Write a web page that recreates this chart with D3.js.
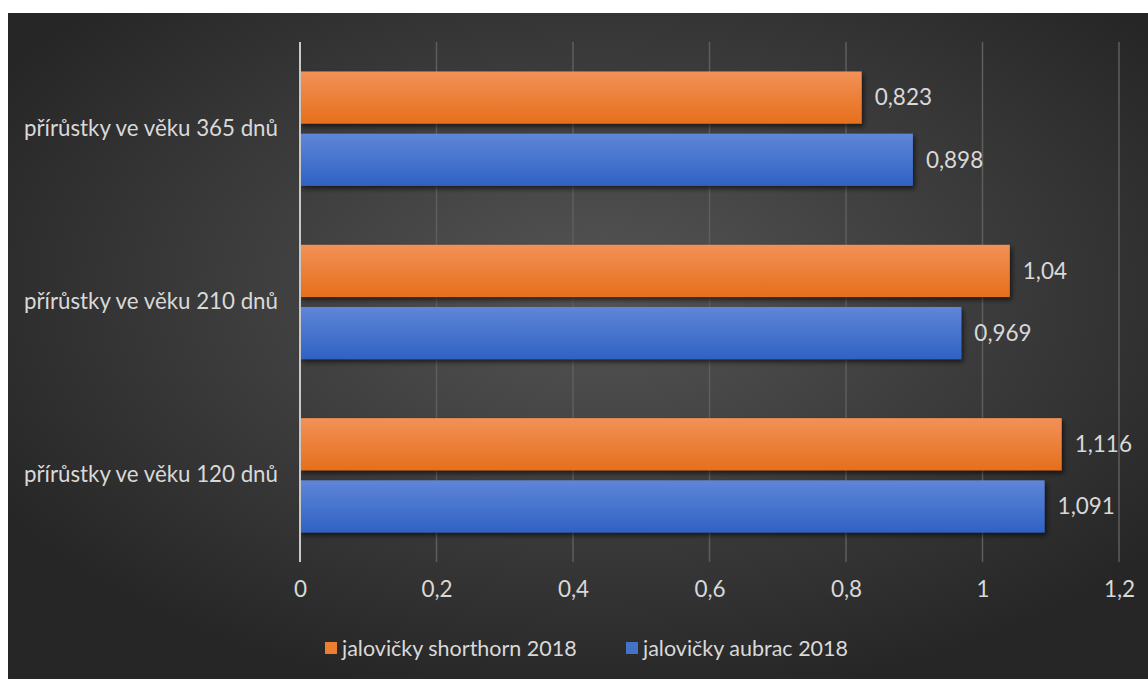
<!DOCTYPE html>
<html>
<head>
<meta charset="utf-8">
<script src="https://cdn.jsdelivr.net/npm/d3@7"></script>
<style>
  html, body { margin: 0; padding: 0; background: #fff; }
  svg { display: block; }
</style>
</head>
<body>
<svg id="chart" width="1148" height="679"></svg>
<script>
// categories from top to bottom, as in the picture
const categories = ["přírůstky ve věku 365 dnů", "přírůstky ve věku 210 dnů", "přírůstky ve věku 120 dnů"];
const seriesNames = ["jalovičky shorthorn 2018", "jalovičky aubrac 2018"];
const shorthorn = [0.823, 1.04, 1.116];
const aubrac = [0.898, 0.969, 1.091];
const xTicks = [0, 0.2, 0.4, 0.6, 0.8, 1, 1.2];

const fmt = v => String(v).replace(".", ",");

const svg = d3.select("#chart");
const defs = svg.append("defs");

// background gradient (dark, lighter in the middle)
const bg = defs.append("radialGradient").attr("id", "bg")
  .attr("cx", "52%").attr("cy", "42%").attr("r", "62%");
bg.append("stop").attr("offset", "0%").attr("stop-color", "#555555");
bg.append("stop").attr("offset", "100%").attr("stop-color", "#262626");

function barGrad(id, top, bottom) {
  const g = defs.append("linearGradient").attr("id", id)
    .attr("x1", 0).attr("y1", 0).attr("x2", 0).attr("y2", 1);
  g.append("stop").attr("offset", "0%").attr("stop-color", top);
  g.append("stop").attr("offset", "100%").attr("stop-color", bottom);
}
barGrad("gOrange", "#f29157", "#e66f1c");
barGrad("gBlue", "#5f86d8", "#2f62c3");

const shadow = defs.append("filter").attr("id", "shadow")
  .attr("x", "-5%").attr("y", "-20%").attr("width", "115%").attr("height", "160%");
shadow.append("feDropShadow").attr("dx", 2).attr("dy", 3).attr("stdDeviation", 2.5)
  .attr("flood-color", "#000").attr("flood-opacity", 0.6);

svg.append("rect").attr("x", 8).attr("y", 13).attr("width", 1140).attr("height", 666)
  .attr("fill", "url(#bg)");

const margin = { left: 300, right: 1119, top: 42, bottom: 562 };

const x = d3.scaleLinear().domain([0, 1.2]).range([margin.left, margin.right]);
const y = d3.scaleBand().domain(categories).range([margin.top, margin.bottom])
  .paddingInner(0.34).paddingOuter(0.17);
const inner = d3.scaleBand().domain(seriesNames).range([0, y.bandwidth()]).paddingInner(0.16);

const font = "Lato, 'Open Sans', sans-serif";
const textColor = "#d9d9d9";

// gridlines
svg.append("g").selectAll("line").data(xTicks.slice(1)).join("line")
  .attr("x1", d => x(d)).attr("x2", d => x(d))
  .attr("y1", margin.top).attr("y2", margin.bottom)
  .attr("stroke", "#5e5e5e").attr("stroke-width", 1.5);

// x axis tick labels
const xAxis = d3.axisBottom(x).tickValues(xTicks).tickFormat(fmt).tickSize(0).tickPadding(0);
const gx = svg.append("g").attr("transform", `translate(0,${margin.bottom + 19})`).call(xAxis);
gx.select(".domain").remove();
gx.selectAll("text").attr("fill", textColor).style("font-family", font).style("font-size", "22.5px");

// category labels
const yAxis = d3.axisLeft(y).tickSize(0).tickPadding(0);
const gy = svg.append("g").attr("transform", `translate(${margin.left - 22},0)`).call(yAxis);
gy.select(".domain").remove();
gy.selectAll("text").attr("fill", textColor).style("font-family", font).style("font-size", "22.3px");

// bars
const rows = categories.map((c, i) => ({ cat: c, vals: [shorthorn[i], aubrac[i]] }));
const groups = svg.append("g").selectAll("g").data(rows).join("g")
  .attr("transform", d => `translate(0,${y(d.cat)})`);

const fills = ["url(#gOrange)", "url(#gBlue)"];
const bars = groups.selectAll("g").data(d => d.vals.map((v, j) => ({ v, s: seriesNames[j], j }))).join("g");
bars.append("rect")
  .attr("x", x(0)).attr("y", d => inner(d.s))
  .attr("width", d => x(d.v) - x(0)).attr("height", inner.bandwidth())
  .attr("fill", d => fills[d.j]).attr("filter", "url(#shadow)");
bars.append("text")
  .attr("x", d => x(d.v) + 13).attr("y", d => inner(d.s) + inner.bandwidth() / 2)
  .attr("dy", "0.35em").attr("fill", textColor)
  .style("font-family", font).style("font-size", "22.5px")
  .text(d => fmt(d.v));

// zero axis line
svg.append("line").attr("x1", x(0)).attr("x2", x(0))
  .attr("y1", margin.top).attr("y2", margin.bottom)
  .attr("stroke", "#c8c8c8").attr("stroke-width", 2);

// legend
const legendX = [325, 626];
const legendColors = ["#ed7d31", "#4472c4"];
const lg = svg.append("g").selectAll("g").data(seriesNames).join("g")
  .attr("transform", (d, i) => `translate(${legendX[i]},642)`);
lg.append("rect").attr("width", 12).attr("height", 12).attr("fill", (d, i) => legendColors[i]);
lg.append("text").attr("x", 17).attr("y", 6).attr("dy", "0.35em")
  .attr("fill", textColor).style("font-family", font).style("font-size", "21.5px")
  .text(d => d);
</script>
</body>
</html>
